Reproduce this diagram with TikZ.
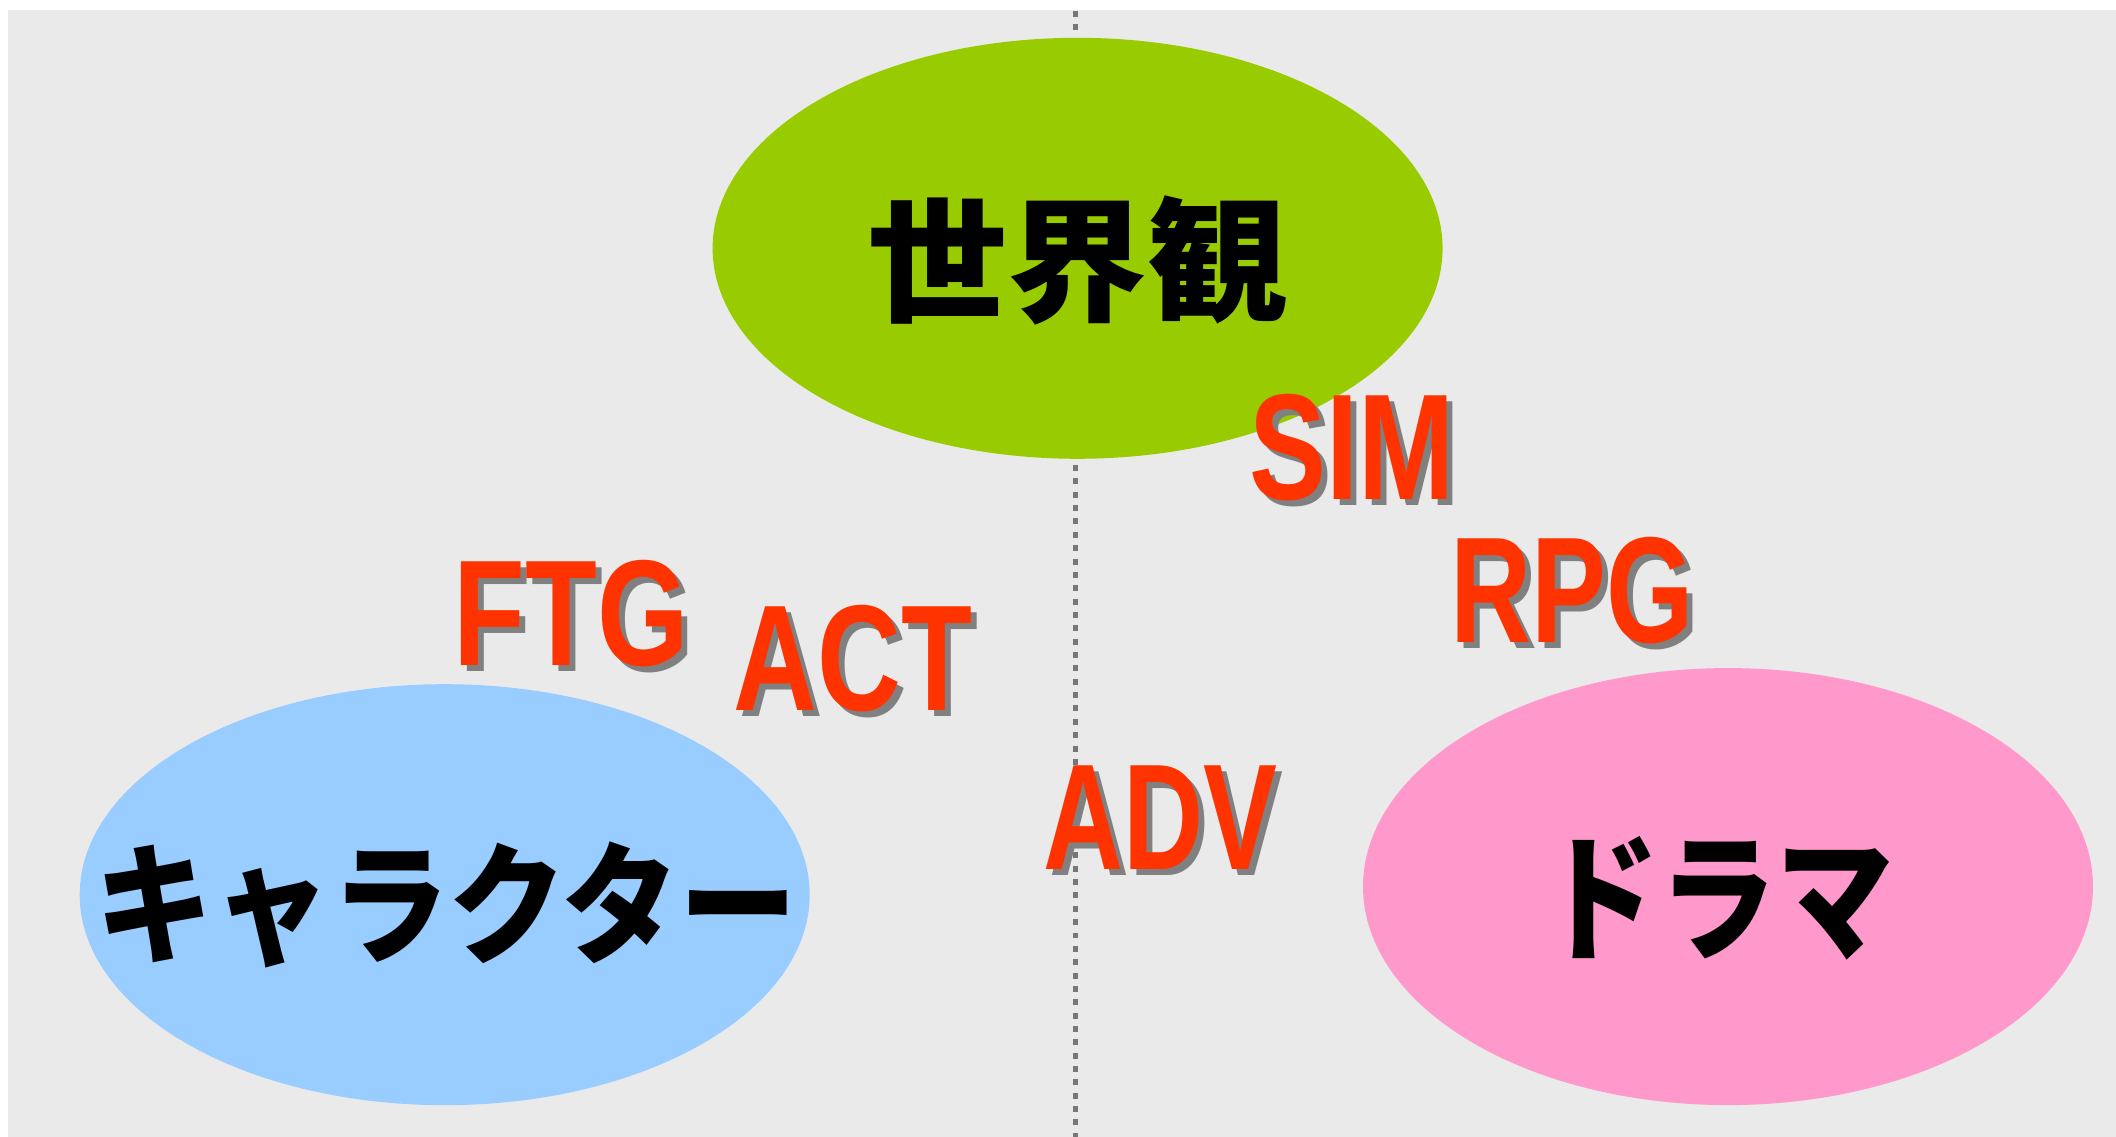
\documentclass[tikz,border=0pt]{standalone}
\usepackage{fontspec}
\usetikzlibrary{shapes.geometric}
\newfontfamily\cjk{Noto Sans CJK JP}
\newfontfamily\lab{Liberation Sans}
\definecolor{bgc}{HTML}{EAEAEA}
\definecolor{greenc}{HTML}{99CC00}
\definecolor{bluec}{HTML}{99CCFF}
\definecolor{pinkc}{HTML}{FF99CC}
\definecolor{redc}{HTML}{FF3300}
\definecolor{shadc}{HTML}{808080}
\definecolor{dotc}{HTML}{777777}
\tikzset{
  blob/.style={ellipse, inner sep=0pt, draw=none},
  jp/.style={inner sep=0pt, text=black, font=\cjk\bfseries\fontsize{#1}{#1}\selectfont},
  lbl/.style={inner sep=0pt, text=redc, font=\lab\bfseries\fontsize{42.9pt}{43pt}\selectfont},
  shd/.style={lbl, text=shadc},
  sep/.style={draw=dotc, line width=1.7pt, dash pattern=on 1.7pt off 2.1pt}
}
\newcommand{\hsq}[2]{\scalebox{#1}[1]{#2}}
\begin{document}
\begin{tikzpicture}[x=0.1mm,y=-0.1mm]
\useasboundingbox (0,0) rectangle (2116,1137);
\fill[bgc] (8,10) rectangle (2116,1137);
\coordinate (top) at (1075.5,11);
\coordinate (bot) at (1075.5,1137);
\draw[sep] (top) -- (bot);
\node[blob, fill=greenc, minimum width=73mm, minimum height=42.1mm] (world) at (1077.6,248.3) {};
\node[blob, fill=bluec, minimum width=73mm, minimum height=42.1mm] (chara) at (444.7,894.7) {};
\node[blob, fill=pinkc, minimum width=73mm, minimum height=43.7mm] (drama) at (1728,886.6) {};
\node[jp=38.3pt] (tworld) at (1077,260) {\hsq{1.04}{世界観}};
\node[jp=37.4pt] (tchara) at (446.5,904.5) {\hsq{0.896}{キャラクター}};
\node[jp=39.5pt] (tdrama) at (1718,898) {\hsq{0.843}{ドラマ}};
% labels with shadows
\node[shd] (sims) at (1358,454) {\hsq{0.765}{SIM}};
\node[lbl] (sim) at (1352,448) {\hsq{0.765}{SIM}};
\node[shd] (rpgs) at (1578,597) {\hsq{0.745}{RPG}};
\node[lbl] (rpg) at (1572,591) {\hsq{0.745}{RPG}};
\node[shd] (ftgs) at (577,620) {\hsq{0.78}{FTG}};
\node[lbl] (ftg) at (571,614) {\hsq{0.78}{FTG}};
\node[shd] (acts) at (859,665) {\hsq{0.77}{ACT}};
\node[lbl] (act) at (853,659) {\hsq{0.77}{ACT}};
\node[shd] (advs) at (1166,824) {\hsq{0.735}{ADV}};
\node[lbl] (adv) at (1160,818) {\hsq{0.735}{ADV}};
\end{tikzpicture}
\end{document}
